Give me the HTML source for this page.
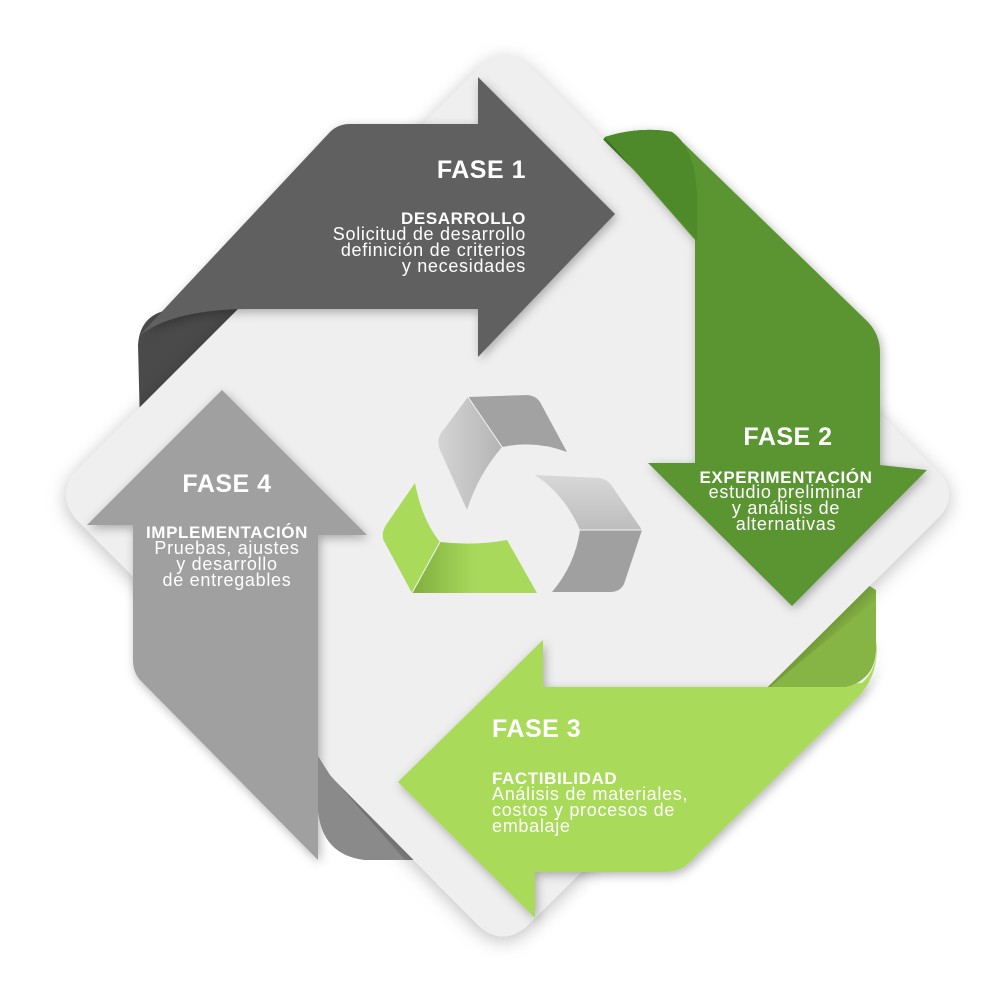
<!DOCTYPE html>
<html><head><meta charset="utf-8"><style>
html,body{margin:0;padding:0;background:#fff;}
svg{display:block}
text{font-family:"Liberation Sans",sans-serif;fill:#fff}
.h{font-weight:bold;font-size:25px;letter-spacing:0.5px}
.s{font-weight:bold;font-size:17px;letter-spacing:0.6px}
.l{font-size:18px;letter-spacing:0.7px}
</style></head><body>
<svg width="1000" height="1000" viewBox="0 0 1000 1000" xmlns="http://www.w3.org/2000/svg">
<defs>
<filter id="sh" x="-20%" y="-20%" width="140%" height="140%"><feDropShadow dx="0" dy="4" stdDeviation="9" flood-color="#000" flood-opacity="0.25"/></filter>
<filter id="sh2" x="-20%" y="-20%" width="140%" height="140%"><feDropShadow dx="2" dy="3" stdDeviation="5" flood-color="#000" flood-opacity="0.3"/></filter>
<linearGradient id="gL" x1="0" y1="0" x2="1" y2="0"><stop offset="0" stop-color="#d4d4d4"/><stop offset="1" stop-color="#b4b4b4"/></linearGradient>
<linearGradient id="gT" x1="0" y1="0" x2="0" y2="1"><stop offset="0" stop-color="#d8d8d8"/><stop offset="1" stop-color="#bdbdbd"/></linearGradient>
<linearGradient id="gG" x1="0" y1="0" x2="1" y2="0"><stop offset="0" stop-color="#7fae3e"/><stop offset="0.5" stop-color="#a8d95a"/><stop offset="1" stop-color="#a8d95a"/></linearGradient>
</defs>
<!-- folds behind diamond -->
<path d="M260 309 L175 309 Q140 312 138 345 L140 425 L270 300 Z" fill="#4a4a4a"/>
<path d="M605 137 Q640 126 672 132 Q697 150 697 200 L697 260 L590 160 Z" fill="#4b8429"/>
<path d="M760 687 L845 687 Q875 680 876 650 L876 590 L860 580 Z" fill="#87b545"/>
<path d="M318 740 L318 810 Q322 855 365 860 L420 860 L320 750 Z" fill="#858585"/>
<!-- diamond -->
<path d="M480 67 Q505 45 530 67 L938 472 Q960 495 938 518 L528 925 Q503 948 478 925 L77 520 Q55 495 77 470 Z" fill="#efefef" filter="url(#sh)"/>
<!-- Fase 1 -->
<path d="M330 132 Q338 124 350 124 L478 124 L478 77 L615 214 L478 357 L478 309 L250 309 Q175 309 140 335 Z" fill="#616161" filter="url(#sh2)"/>
<!-- Fase 2 -->
<path d="M605 137 Q640 126 672 132 L868 322 Q880 335 880 352 L880 465 L927 470 L792 606 L648 463 L695 463 L695 240 Z" fill="#5a9533" filter="url(#sh2)"/>
<path d="M605 137 Q640 126 672 132 Q697 150 697 200 L697 240 Z" fill="#4f8a2a"/>
<!-- Fase 3 -->
<path d="M543 640 L543 687 L770 687 L862 683 Q876 670 876 652 L876 640 Q880 672 860 695 L690 862 Q680 872 665 872 L535 872 L535 918 L398 782 Z" fill="#a9da5a" filter="url(#sh2)"/>
<path d="M770 687 L845 687 Q872 682 876 650 L876 600 Z" fill="#87b545"/>
<!-- Fase 4 -->
<path d="M222 390 L367 535 L318 535 L318 860 L140 680 Q133 672 133 660 L133 525 L87 525 Z" fill="#a0a0a0" filter="url(#sh2)"/>
<path d="M318 756 L318 810 Q322 855 365 860 L405 860 L330 775 Z" fill="#8a8a8a"/>
<!-- recycle icon -->
<path d="M468 397 L502 447 Q478 475 467 510 L440 450 Q435 438 445 428 Z" fill="url(#gL)"/>
<path d="M468 397 L528 395 Q536 396 540 402 L567 452 Q535 440 502 447 Z" fill="#a2a2a2"/>
<path d="M535 475 L600 478 Q608 480 612 486 L642 530 L580 530 Q565 495 535 475 Z" fill="url(#gT)"/>
<path d="M580 530 L642 530 L624 584 Q620 592 610 592 L552 592 Q575 565 580 530 Z" fill="#a0a0a0"/>
<path d="M415 483 Q422 520 440 542 L412 593 L385 543 Q380 535 386 525 Z" fill="#a9da5a"/>
<path d="M440 542 Q475 546 507 540 L537 593 L412 593 Z" fill="url(#gG)"/>
<line x1="440" y1="542" x2="412" y2="593" stroke="#f4f4f4" stroke-width="1"/>
<line x1="468" y1="397" x2="502" y2="447" stroke="#f4f4f4" stroke-width="1"/>
<line x1="580" y1="530" x2="642" y2="530" stroke="#f4f4f4" stroke-width="1"/>
<!-- texts -->
<text class="h" x="526" y="178" text-anchor="end">FASE 1</text>
<text class="s" x="526" y="224" text-anchor="end">DESARROLLO</text>
<text class="l" x="526" y="240" text-anchor="end">Solicitud de desarrollo</text>
<text class="l" x="526" y="256" text-anchor="end">definición de criterios</text>
<text class="l" x="526" y="272" text-anchor="end">y necesidades</text>

<text class="h" x="788" y="445" text-anchor="middle">FASE 2</text>
<text class="s" x="786" y="483" text-anchor="middle">EXPERIMENTACIÓN</text>
<text class="l" x="786" y="498" text-anchor="middle">estudio preliminar</text>
<text class="l" x="786" y="514" text-anchor="middle">y análisis de</text>
<text class="l" x="786" y="530" text-anchor="middle">alternativas</text>

<text class="h" x="492" y="737">FASE 3</text>
<text class="s" x="492" y="784">FACTIBILIDAD</text>
<text class="l" x="492" y="800">Análisis de materiales,</text>
<text class="l" x="492" y="816">costos y procesos de</text>
<text class="l" x="492" y="832">embalaje</text>

<text class="h" x="227" y="492" text-anchor="middle">FASE 4</text>
<text class="s" x="227" y="538" text-anchor="middle">IMPLEMENTACIÓN</text>
<text class="l" x="227" y="554" text-anchor="middle">Pruebas, ajustes</text>
<text class="l" x="227" y="570" text-anchor="middle">y desarrollo</text>
<text class="l" x="227" y="586" text-anchor="middle">de entregables</text>
</svg>
</body></html>
